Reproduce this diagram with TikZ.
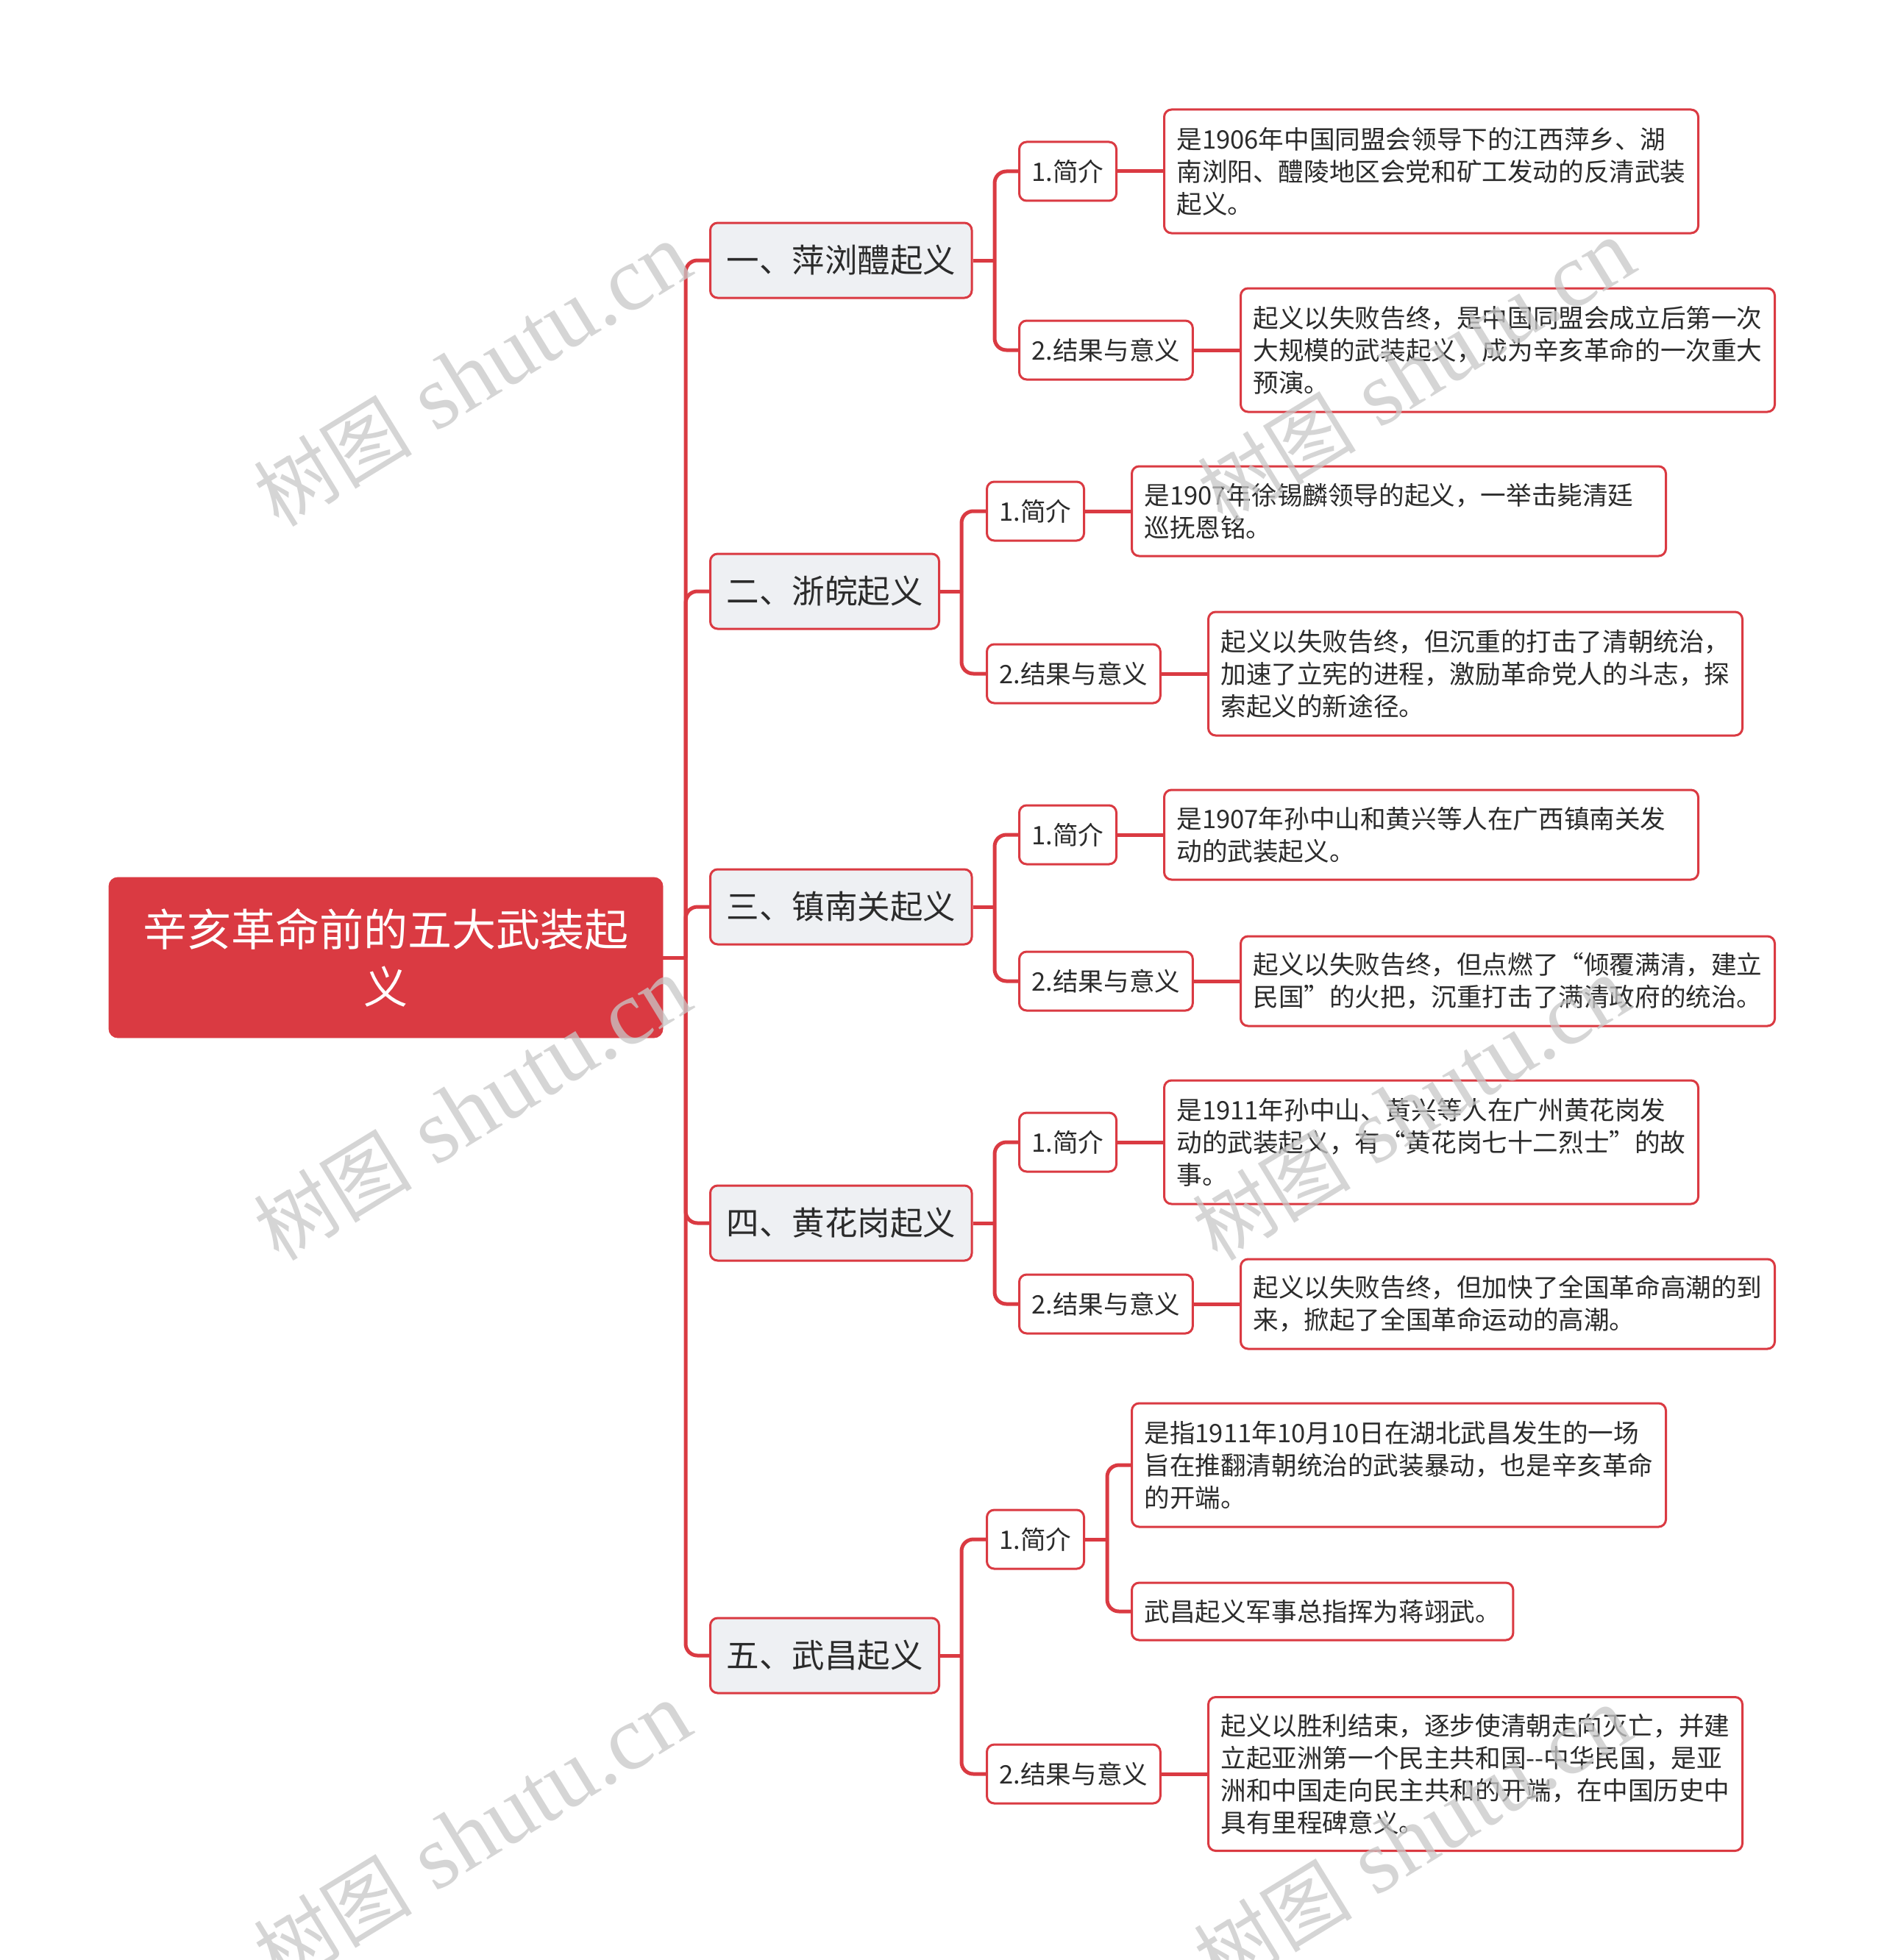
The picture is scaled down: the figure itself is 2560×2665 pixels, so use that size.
\documentclass[tikz,border=0pt]{standalone}
\usepackage{fontspec}
\setmainfont{Noto Sans CJK SC}
\newfontfamily\wmlatin{Liberation Serif}
\newfontfamily\wmcjk{Noto Sans CJK SC}
\definecolor{mred}{HTML}{DA3A42}
\definecolor{mgray}{HTML}{EEF0F3}
\definecolor{mtext}{HTML}{2B2B2B}
\definecolor{wmgray}{HTML}{C8C8C8}
\begin{document}
\begin{tikzpicture}[x=0.5pt,y=-0.5pt,
  conn/.style={draw=mred, line width=2.5pt, rounded corners=8pt},
  rootbox/.style={draw=mred, fill=mred, rounded corners=6pt, text=white,
    font=\fontsize{30pt}{39pt}\selectfont, align=center,
    minimum width=376.5pt, minimum height=109pt, inner sep=0pt},
  lone/.style={draw=mred, line width=1.5pt, fill=mgray, rounded corners=5pt, text=mtext,
    font=\fontsize{22.25pt}{28pt}\selectfont, minimum height=51pt, inner xsep=11pt, anchor=west},
  ltwo/.style={draw=mred, line width=1.5pt, fill=white, rounded corners=5pt, text=mtext,
    font=\fontsize{17.3pt}{22pt}\selectfont, minimum height=40pt, inner xsep=8.5pt, inner ysep=4pt, anchor=west},
  txt/.style={ltwo, text width=346pt, align=left},
  wm/.style={text=wmgray, opacity=0.75, rotate=31.5, inner sep=0pt}
]
\useasboundingbox (0,0) rectangle (2560,2665);
\fill[white] (0,0) rectangle (2560,2665);

% root
\node[rootbox] (root) at (524.5,1302) {辛亥革命前的五大武装起\\义};
\coordinate (j0) at (932,1302);

% level 1
\node[lone] (a) at (964,354) {一、萍浏醴起义};
\node[lone] (b) at (964,804) {二、浙皖起义};
\node[lone] (c) at (964,1233) {三、镇南关起义};
\node[lone] (d) at (964,1663) {四、黄花岗起义};
\node[lone] (e) at (964,2251) {五、武昌起义};

% group a
\node[ltwo] (a1) at (1384,233) {1.简介};
\node[txt, minimum height=84pt] (a1t) at (1581,233) {是1906年中国同盟会领导下的江西萍乡、湖\\南浏阳、醴陵地区会党和矿工发动的反清武装\\起义。};
\node[ltwo] (a2) at (1384,476) {2.结果与意义};
\node[txt, minimum height=84pt] (a2t) at (1685,476) {起义以失败告终，是中国同盟会成立后第一次\\大规模的武装起义，成为辛亥革命的一次重大\\预演。};

% group b
\node[ltwo] (b1) at (1340,695) {1.简介};
\node[txt, minimum height=61pt] (b1t) at (1537,695) {是1907年徐锡麟领导的起义，一举击毙清廷\\巡抚恩铭。};
\node[ltwo] (b2) at (1340,916) {2.结果与意义};
\node[txt, minimum height=84pt] (b2t) at (1641,916) {起义以失败告终，但沉重的打击了清朝统治，\\加速了立宪的进程，激励革命党人的斗志，探\\索起义的新途径。};

% group c
\node[ltwo] (c1) at (1384,1135) {1.简介};
\node[txt, minimum height=61pt] (c1t) at (1581,1135) {是1907年孙中山和黄兴等人在广西镇南关发\\动的武装起义。};
\node[ltwo] (c2) at (1384,1334) {2.结果与意义};
\node[txt, minimum height=61pt] (c2t) at (1685,1334) {起义以失败告终，但点燃了“倾覆满清，建立\\民国”的火把，沉重打击了满清政府的统治。};

% group d
\node[ltwo] (d1) at (1384,1553) {1.简介};
\node[txt, minimum height=84pt] (d1t) at (1581,1553) {是1911年孙中山、黄兴等人在广州黄花岗发\\动的武装起义，有“黄花岗七十二烈士”的故\\事。};
\node[ltwo] (d2) at (1384,1773) {2.结果与意义};
\node[txt, minimum height=61pt] (d2t) at (1685,1773) {起义以失败告终，但加快了全国革命高潮的到\\来，掀起了全国革命运动的高潮。};

% group e
\node[ltwo] (e1) at (1340,2093) {1.简介};
\node[txt, minimum height=84pt] (e1t) at (1537,1992) {是指1911年10月10日在湖北武昌发生的一场\\旨在推翻清朝统治的武装暴动，也是辛亥革命\\的开端。};
\node[ltwo, minimum height=39pt] (e1u) at (1537,2191) {武昌起义军事总指挥为蒋翊武。};
\node[ltwo] (e2) at (1340,2412) {2.结果与意义};
\node[txt, minimum height=104.5pt] (e2t) at (1641,2412) {起义以胜利结束，逐步使清朝走向灭亡，并建\\立起亚洲第一个民主共和国-{}-中华民国，是亚\\洲和中国走向民主共和的开端，在中国历史中\\具有里程碑意义。};

% connectors: root to level 1
\draw[conn] (root.east) -- (j0);
\foreach \n in {a,b,c,d,e} \draw[conn] (j0) |- (\n.west);

% level 1 to level 2
\coordinate (ja) at (1352,354);
\coordinate (jb) at (1307,804);
\coordinate (jc) at (1352,1233);
\coordinate (jd) at (1352,1663);
\coordinate (je) at (1307,2251);
\foreach \n in {a,b,c,d,e} {
  \draw[conn] (\n.east) -- (j\n);
  \draw[conn] (j\n) |- (\n1.west);
  \draw[conn] (j\n) |- (\n2.west);
}

% level 2 to text
\foreach \n in {a1,a2,b1,b2,c1,c2,d1,d2,e2} \draw[conn] (\n.east) -- (\n t.west);
\coordinate (je1) at (1505,2093);
\draw[conn] (e1.east) -- (je1);
\draw[conn] (je1) |- (e1t.west);
\draw[conn] (je1) |- (e1u.west);

% watermarks
\foreach \p [count=\i] in {(642,510),(642,1508),(642,2494),(1925,505),(1918,1508),(1920,2500)}
  \node[wm] (wm\i) at \p {\fontsize{54pt}{54pt}\wmcjk 树图\hspace{0.3em}\fontsize{62pt}{62pt}\wmlatin shutu.cn};
\end{tikzpicture}
\end{document}
